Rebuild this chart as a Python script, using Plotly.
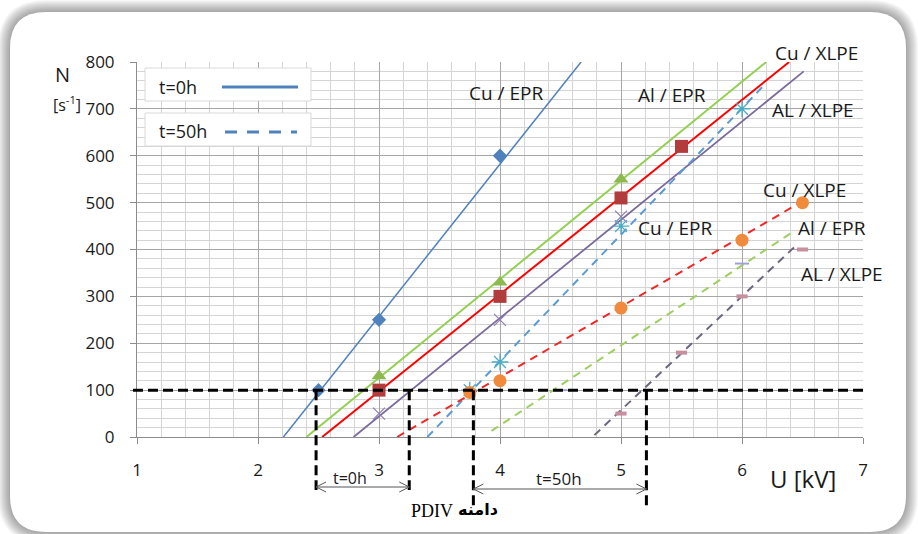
import plotly.graph_objects as go

# ---------------- data ----------------
# t = 0h (solid trend lines)
blue0_u = [2.5, 3, 4]
blue0_n = [100, 250, 600]
blue0_tu = [2.21, 4.67]
blue0_tn = [0, 800]

green0_u = [3, 4, 5]
green0_n = [130, 330, 550]
green0_tu = [2.40, 6.20]
green0_tn = [0, 800]

red0_u = [3, 4, 5, 5.5]
red0_n = [100, 300, 510, 620]
red0_tu = [2.53, 6.39]
red0_tn = [0, 800]

purple0_u = [3, 4, 5]
purple0_n = [50, 250, 470]
purple0_tu = [2.79, 6.51]
purple0_tn = [0, 780]

# t = 50h (dashed trend lines)
blue50_u = [3.75, 4, 5, 6]
blue50_n = [100, 160, 450, 700]
blue50_tu = [3.40, 6.18]
blue50_tn = [0, 750]

red50_u = [3.75, 4, 5, 6, 6.5]
red50_n = [95, 120, 275, 420, 500]
red50_tu = [3.15, 6.48]
red50_tn = [0, 500]

green50_u = [4.5, 6]
green50_n = [100, 370]
green50_tu = [3.93, 6.44]
green50_tn = [13, 441]

purple50_u = [5, 5.5, 6, 6.5]
purple50_n = [50, 180, 300, 400]
purple50_tu = [4.78, 6.44]
purple50_tn = [4, 407]

pdiv_level = 100
pdiv_0h = [2.48, 3.25]
pdiv_50h = [3.78, 5.21]

x_ticks = [1, 2, 3, 4, 5, 6, 7]
y_ticks = [0, 100, 200, 300, 400, 500, 600, 700, 800]

# ---------------- layout helpers (pixel -> paper) ----------------
W, H = 918, 534
PL, PR, PT, PB = 137, 863, 62, 437


def fx(px):
    return (px - PL) / (PR - PL)


def fy(py):
    return (PB - py) / (PB - PT)


def rrect(x0, y0, x1, y1, r):
    def P(x, y):
        return f"{fx(x):.5f},{fy(y):.5f}"
    return (f"M{P(x0 + r, y0)} L{P(x1 - r, y0)} Q{P(x1, y0)} {P(x1, y0 + r)} "
            f"L{P(x1, y1 - r)} Q{P(x1, y1)} {P(x1 - r, y1)} L{P(x0 + r, y1)} "
            f"Q{P(x0, y1)} {P(x0, y1 - r)} L{P(x0, y0 + r)} Q{P(x0, y0)} {P(x0 + r, y0)} Z")


FONT = "Open Sans"
fig = go.Figure()


def trend(u, n, color, width, dash=None):
    fig.add_trace(go.Scatter(x=u, y=n, mode="lines",
                             line=dict(color=color, width=width, dash=dash),
                             hoverinfo="skip", showlegend=False))


def marks(u, n, symbol, color, size, lw=0, lcolor=None):
    fig.add_trace(go.Scatter(x=u, y=n, mode="markers", cliponaxis=False,
                             marker=dict(symbol=symbol, color=color, size=size,
                                         line=dict(width=lw, color=lcolor or color)),
                             showlegend=False))


DASH = "8px,6px"
trend(blue0_tu, blue0_tn, "#4F81BD", 1.5)
trend(green0_tu, green0_tn, "#92D050", 2)
trend(red0_tu, red0_tn, "#FF0000", 2)
trend(purple0_tu, purple0_tn, "#7A6A9E", 1.8)
trend(blue50_tu, blue50_tn, "#5B9BD5", 2, DASH)
trend(red50_tu, red50_tn, "#F02828", 2, DASH)
trend(green50_tu, green50_tn, "#9CCF5E", 2, DASH)
trend(purple50_tu, purple50_tn, "#6E6580", 2, DASH)

marks(blue0_u, blue0_n, "diamond", "#4F81BD", 11)
marks(green0_u, green0_n, "triangle-up", "#8DB94E", 13)
marks(red0_u, red0_n, "square", "#B23C3C", 13)
marks(purple0_u, purple0_n, "x-thin", "#8E7CB0", 12, 1.2)
marks(blue50_u, blue50_n, "asterisk", "#4BACC6", 14, 1.3)
marks(red50_u, red50_n, "circle", "#F08A3C", 13)
marks(green50_u, green50_n, "line-ew", "#A0A0D8", 10, 2)
marks(purple50_u, purple50_n, "line-ew", "#C8909E", 8, 4)

shapes = []
# shadow + white panel
for d in range(12, 0, -1):
    shapes.append(dict(type="path", xref="paper", yref="paper", layer="below",
                       path=rrect(10 - d, 12 - d, 906 + d, 532 + d, 36 + d),
                       fillcolor="rgba(0,0,0,0.03)", line=dict(width=0)))
shapes.append(dict(type="path", xref="paper", yref="paper", layer="below",
                   path=rrect(10, 12, 906, 532, 36),
                   fillcolor="white", line=dict(width=0)))

# PDIV reference lines
shapes.append(dict(type="line", xref="paper", yref="y", x0=fx(133), x1=fx(866),
                   y0=pdiv_level, y1=pdiv_level, layer="above",
                   line=dict(color="black", width=3, dash="10px,5px")))
for u in pdiv_0h:
    shapes.append(dict(type="line", xref="x", yref="paper", x0=u, x1=u,
                       y0=pdiv_level / 800, y1=fy(490), layer="above",
                       line=dict(color="black", width=3, dash="10px,5px")))
for u in pdiv_50h:
    shapes.append(dict(type="line", xref="x", yref="paper", x0=u, x1=u,
                       y0=pdiv_level / 800, y1=fy(506), layer="above",
                       line=dict(color="black", width=3, dash="10px,5px")))


def dbl_arrow(ua, ub, py):
    yy = fy(py)
    dx = 10 / 121
    dy = 5 / (PB - PT)
    shapes.append(dict(type="line", xref="x", yref="paper", x0=ua, x1=ub, y0=yy, y1=yy,
                       line=dict(color="#555555", width=1)))
    shapes.append(dict(type="path", xref="x", yref="paper",
                       path=f"M{ua+dx},{yy+dy} L{ua},{yy} L{ua+dx},{yy-dy}",
                       line=dict(color="#555555", width=1)))
    shapes.append(dict(type="path", xref="x", yref="paper",
                       path=f"M{ub-dx},{yy+dy} L{ub},{yy} L{ub-dx},{yy-dy}",
                       line=dict(color="#555555", width=1)))


dbl_arrow(pdiv_0h[0], pdiv_0h[1], 487)
dbl_arrow(pdiv_50h[0], pdiv_50h[1], 489)

# legend boxes
for (y0, y1) in [(68, 101), (113, 146)]:
    shapes.append(dict(type="rect", xref="paper", yref="paper", layer="above",
                       x0=fx(145), x1=fx(311), y0=fy(y1), y1=fy(y0),
                       fillcolor="white", line=dict(color="#D9D9D9", width=1)))
shapes.append(dict(type="line", xref="paper", yref="paper", layer="above",
                   x0=fx(222), x1=fx(298), y0=fy(87), y1=fy(87),
                   line=dict(color="#4F81BD", width=3)))
shapes.append(dict(type="line", xref="paper", yref="paper", layer="above",
                   x0=fx(225), x1=fx(297), y0=fy(132), y1=fy(132),
                   line=dict(color="#4F81BD", width=3, dash="12px,10px")))

ann = []


def label(text, px, py, size=19, family=FONT, color="#1A1A1A", xanchor="center"):
    ann.append(dict(text=text, xref="paper", yref="paper", x=fx(px), y=fy(py),
                    showarrow=False, xanchor=xanchor, yanchor="middle",
                    font=dict(family=family, size=size, color=color)))


label("t=0h", 157, 87, 18, xanchor="left")
label("t=50h", 157, 131, 18, xanchor="left")

label("Cu / EPR", 506, 93)
label("Al / EPR", 672, 95)
label("Cu / XLPE", 816, 53)
label("AL / XLPE", 813, 110)
label("Cu / XLPE", 804, 190)
label("Cu / EPR", 675, 228)
label("Al / EPR", 832, 228)
label("AL / XLPE", 842, 274)

label("N", 62, 75, 20)
label("[s<sup>-1</sup>]", 67, 104, 16)
label("U [kV]", 803, 478, 24)
label("t=0h", 350, 478, 16)
label("t=50h", 559, 478, 17)
label("PDIV", 432, 511, 18, family="Liberation Serif", color="black")
label("<b>دامنه</b>", 478, 510, 16, family="DejaVu Sans", color="black")

fig.update_layout(
    width=W, height=H, autosize=False,
    margin=dict(l=PL, r=W - PR, t=PT, b=H - PB, pad=0),
    paper_bgcolor="white", plot_bgcolor="rgba(0,0,0,0)",
    showlegend=False, shapes=shapes, annotations=ann,
    font=dict(family=FONT, color="#1A1A1A"),
)
fig.update_xaxes(
    range=[1, 7], tickvals=x_ticks, ticktext=[str(v) for v in x_ticks],
    showgrid=True, gridcolor="#A6A6A6", gridwidth=1,
    minor=dict(dtick=0.2, showgrid=True, gridcolor="#D4D4D4", gridwidth=1),
    showline=True, linecolor="#8C8C8C", linewidth=1,
    ticks="outside", ticklen=6, tickcolor="#8C8C8C",
    ticklabelstandoff=12, tickfont=dict(size=17, color="#1A1A1A"),
    zeroline=False, fixedrange=True,
)
fig.update_yaxes(
    range=[0, 800], tickvals=y_ticks, ticktext=[str(v) for v in y_ticks],
    showgrid=True, gridcolor="#A6A6A6", gridwidth=1,
    minor=dict(dtick=20, showgrid=True, gridcolor="#D4D4D4", gridwidth=1),
    showline=True, linecolor="#8C8C8C", linewidth=1,
    ticks="outside", ticklen=6, tickcolor="#8C8C8C",
    ticklabelstandoff=12, tickfont=dict(size=17, color="#1A1A1A"),
    zeroline=False, fixedrange=True,
)

fig.write_html("out.html")
